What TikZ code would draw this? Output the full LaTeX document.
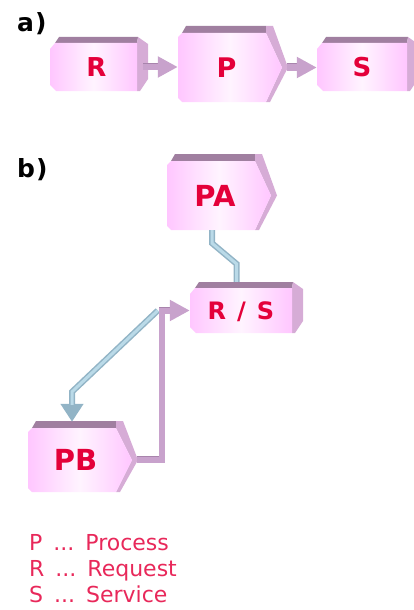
\documentclass[tikz,border=0pt]{standalone}
\usepackage{fontspec}
\setmainfont{DejaVu Sans}
\usetikzlibrary{arrows.meta}
\definecolor{pinkA}{HTML}{FFC6FF}
\definecolor{pinkB}{HTML}{FFF4FF}
\definecolor{topc}{HTML}{A07FA0}
\definecolor{sidec}{HTML}{D6ACD6}
\definecolor{mauve}{HTML}{C8A2CC}
\definecolor{mauvedark}{HTML}{A884AC}
\definecolor{bluec}{HTML}{BADAE8}
\definecolor{bluedark}{HTML}{92B4C6}
\definecolor{lblred}{HTML}{E4003A}
\definecolor{legred}{HTML}{E8285A}

\newcommand\RectBox[7]{%
 \fill[topc] (#2+5,#4) -- (#2+9,#4-6) -- (#3+1,#4-6) -- (#3,#4) -- cycle;
 \fill[sidec] (#3,#4) -- (#3+1,#4-6) -- (#3+11,#4+1) -- (#3+11,#5-12) -- (#3+3,#5) -- (#3,#5) -- cycle;
 \shade[left color=pinkA,right color=pinkA,middle color=pinkB] (#2,#4+6) -- (#2+5,#4) -- (#3,#4) -- (#3,#5) -- (#2+6,#5) -- (#2,#5-6) -- cycle;
 \node[boxlbl, minimum width={#3-#2}, minimum height={#5-#4}, font=\bfseries\fontsize{#7}{#7}\selectfont] (#1) at ({(#2+#3)/2},{(#4+#5)/2}) {#6};
}
\newcommand\ArrowBox[7]{%
 \fill[topc] (#2+4,#4) -- (#2+8,#4-7) -- (#3,#4-7) -- (#3,#4) -- cycle;
 \fill[sidec] (#3,#4) -- (#3,#4-7) -- (#3+7,#4-7) -- (#3+22,{(#4+#5)/2}) -- (#3+4,#5) -- (#3,#5) -- (#3+16,{(#4+#5)/2}) -- cycle;
 \shade[left color=pinkA,right color=pinkA,middle color=pinkB] (#2,#4+4) -- (#2+4,#4) -- (#3,#4) -- (#3+16,{(#4+#5)/2}) -- (#3,#5) -- (#2+4,#5) -- (#2,#5-4) -- cycle;
 \coordinate (#1tip) at (#3+21,{(#4+#5)/2});
 \node[boxlbl, minimum width={#3-#2}, minimum height={#5-#4}, font=\bfseries\fontsize{#7}{#7}\selectfont] (#1) at ({(#2+#3)/2},{(#4+#5)/2}) {#6};
}

\begin{document}
\begin{tikzpicture}[x=1pt,y=-1pt,
  boxlbl/.style={inner sep=0pt, text=lblred, text depth=0pt},
  legend/.style={inner sep=0pt, anchor=base west, text=legred, font=\fontsize{22}{22}\selectfont},
  tag/.style={inner sep=0pt, anchor=base west, font=\bfseries\fontsize{25}{25}\selectfont},
  mconn/.style={line width=6pt, draw=mauve, -{Triangle[length=20pt,width=20pt]},
    preaction={draw=mauvedark, line width=6pt, -, shorten >=19pt, transform canvas={yshift=1pt}}},
  bconn/.style={line width=6pt, draw=bluedark,
    postaction={draw=bluec, line width=3pt, -}},
  bconnarrow/.style={line width=6pt, draw=bluedark, -{Triangle[length=18pt,width=22pt]},
    postaction={draw=bluec, line width=3pt, -, shorten >=17pt}}]
\useasboundingbox (0,0) rectangle (414,610);
\clip (0,0) rectangle (414,610);

\node[tag] (la) at (17,32) {a\kern1pt)};
\RectBox{R}{50}{137}{43}{91}{\hspace*{6pt}R}{26}
\ArrowBox{P}{178}{266}{33}{102}{\hspace*{9pt}P}{27}
\RectBox{S}{317}{407}{43}{91}{S}{26}
\draw[mconn] ([xshift=6pt]R.east) -- (R.east -| P.west);
\draw[mconn] (Ptip) -- (Ptip -| S.west);

\node[tag] (lb) at (17,177) {b\kern1pt)};
\ArrowBox{PA}{167}{255}{161}{230}{\hspace*{8pt}PA}{29}
\RectBox{RS}{190}{292}{288}{333}{R\hspace{11pt}/\hspace{11pt}S}{24}
\ArrowBox{PB}{28}{116}{428}{492}{\hspace*{7pt}PB}{29}

\draw[bconn] ([xshift=1pt]PA.south) -- ++(0,13) -- ([xshift=-4.5pt,yshift=24pt]RS.north) -- ([xshift=-4.5pt,yshift=6pt]RS.north);
\draw[bconnarrow] ([xshift=-32pt]RS.west) -- ([yshift=36pt]PB.north) -- ([yshift=6pt]PB.north);
\draw[mconn] (PBtip) -| ([xshift=-28pt]RS.west) -- (RS.west);

\node[legend] (lp) at (29,550) {P\enspace...\enspace Process};
\node[legend] (lr) at (29,576) {R\enspace...\enspace Request};
\node[legend] (ls) at (29,602) {S\enspace...\enspace Service};
\end{tikzpicture}
\end{document}
